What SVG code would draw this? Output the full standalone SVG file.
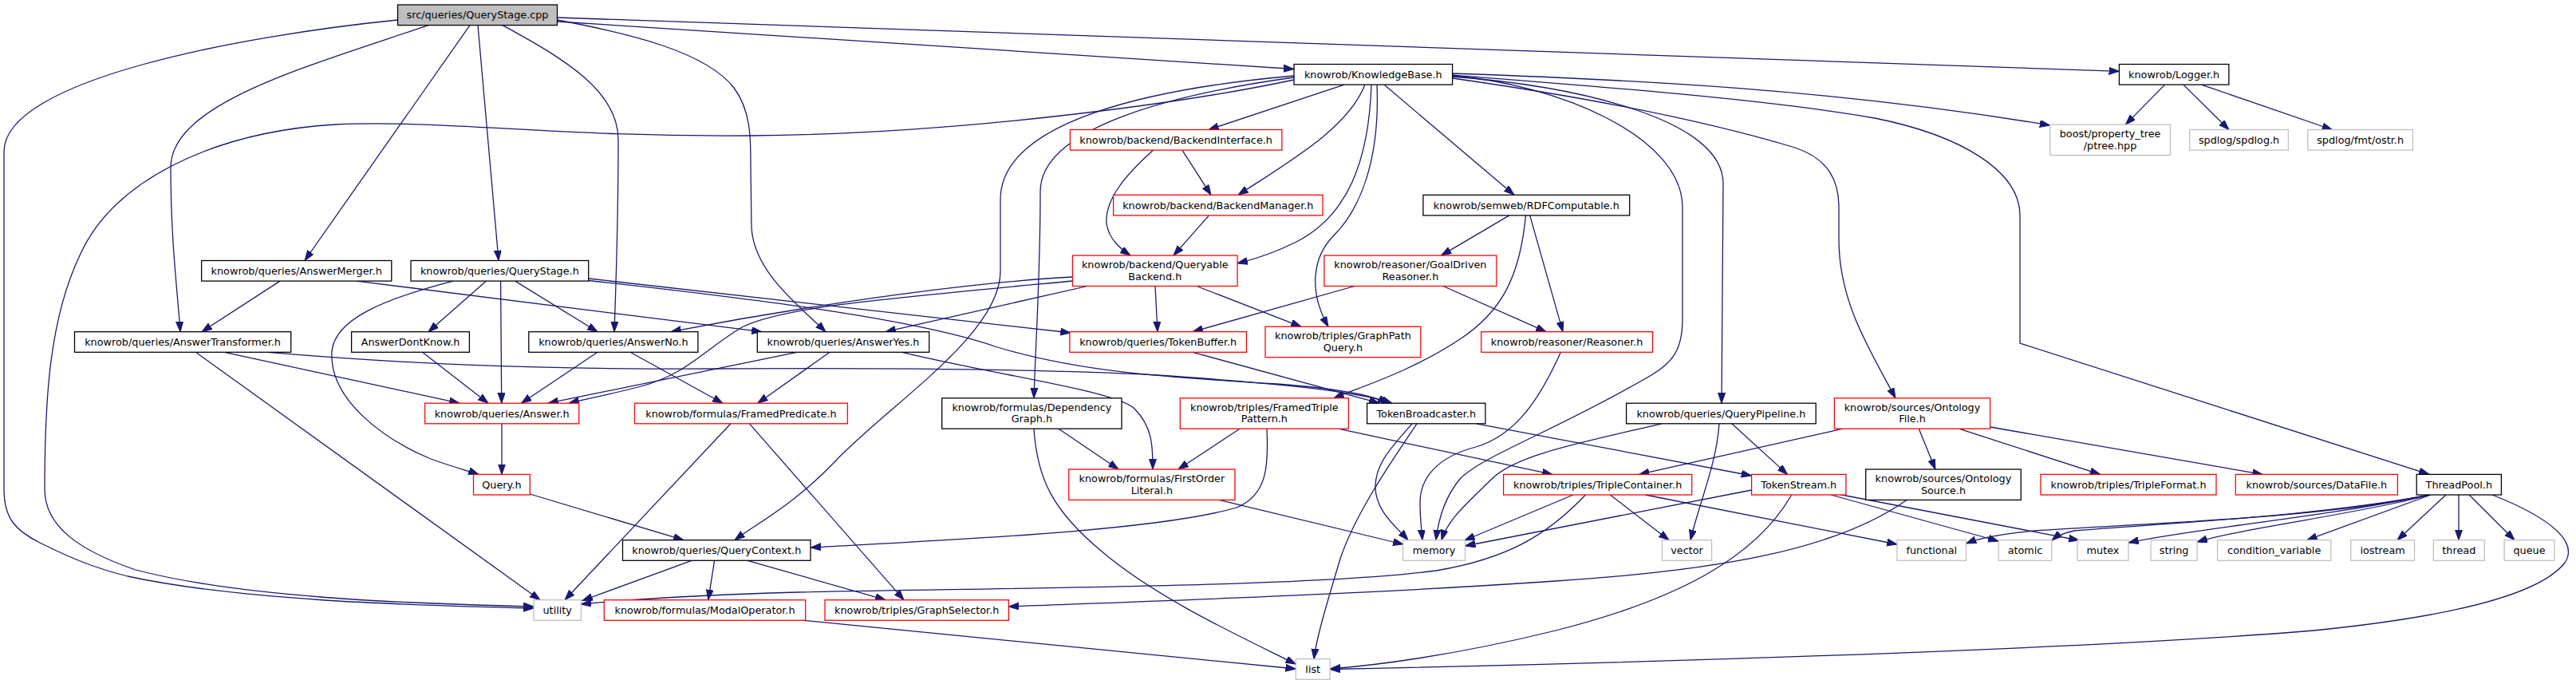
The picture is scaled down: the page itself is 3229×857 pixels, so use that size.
<svg xmlns="http://www.w3.org/2000/svg" width="3229" height="857" viewBox="0 0 3229 857">
<style>
rect{fill:#fff;stroke:#000;stroke-width:1.28}
.r rect{stroke:#f00}
.g rect{stroke:#bfbfbf}
.root rect{fill:#bfbfbf}
text{font-family:"DejaVu Sans",sans-serif;font-size:12.8px;text-anchor:middle;fill:#000}
#edges path{fill:none;stroke:#191970;stroke-width:1.28;marker-end:url(#a)}
</style>
<defs>
<marker id="a" markerUnits="userSpaceOnUse" markerWidth="14" markerHeight="10" refX="12.8" refY="4.5" orient="auto" viewBox="0 0 14 10"><path d="M0,0 L12.8,4.5 L0,9z" fill="#191970" stroke="#191970" stroke-width="1"/></marker>
</defs>
<rect x="0" y="0" width="3229" height="857" style="fill:#fff;stroke:none"/>
<g id="edges">
<path d="M498.5,25 C300,45 5,100 5,190 L5,613 C5,650 20,665 50,680 C90,700 120,712 160,722 C300,752 500,758 669,762"/>
<path d="M537,31.6 C380,85 214,130 214,210 C214,300 222,360 226,415.7"/>
<path d="M589,31.6 L382,326.5"/>
<path d="M599,31.6 L625,326.5"/>
<path d="M630,31.6 C710,75 775,115 775,175 C775,280 772,360 770,415.7"/>
<path d="M698.5,25 C790,42 885,65 920,110 C942,140 941,175 941,210 L942,285 C945,340 1000,382 1035,415.7"/>
<path d="M698.5,27 L1622,86.5"/>
<path d="M698.5,22 L2656.4,89.3"/>
<path d="M1622,100 C1480,130 1200,168 940,170 C700,172 560,150 420,156 C260,166 140,230 100,320 C62,400 56,500 56,613 C56,660 100,690 170,714 C300,748 500,756 669,760"/>
<path d="M1622,95 C1450,110 1254,150 1254,250 L1254,340 C1254,420 1110,510 1045,580 C995,632 950,655 921,676.7"/>
<path d="M1622,97 C1470,118 1304,160 1304,240 C1304,350 1298,430 1296,498.8"/>
<path d="M1685,106.1 L1515,162.5"/>
<path d="M1711,106.1 C1690,160 1620,200 1552,244.3"/>
<path d="M1719,106.1 C1716,200 1690,270 1625,303 C1595,318 1572,325 1551,330"/>
<path d="M1726,106.1 C1730,200 1705,262 1672,295 C1645,322 1640,365 1665,409.3"/>
<path d="M1735,106.1 L1898,244.3"/>
<path d="M1820.6,95 C1950,105 2109,170 2109,260 L2109,400 C2109,440 2095,455 2070,470 C1950,540 1860,570 1830,600 C1812,622 1803,650 1800,676.7"/>
<path d="M1820.6,96 C1980,108 2160,150 2160,230 L2158,505.2"/>
<path d="M1820.6,98 C1990,122 2140,152 2250,185 C2295,200 2305,230 2305,260 L2305,300 C2305,380 2345,440 2376,498.8"/>
<path d="M1820.6,94 C2000,108 2220,125 2350,148 C2460,170 2532,215 2532,270 L2532,430 L3045,594.4"/>
<path d="M1820.6,92 C2050,100 2300,112 2569.7,157"/>
<path d="M2713.5,106.1 L2664.4,156.1"/>
<path d="M2736.8,106.1 L2794,162.5"/>
<path d="M2759.5,106.1 L2923.4,162.5"/>
<path d="M1481.9,188.1 L1518,244.3"/>
<path d="M1445.7,188.1 C1410,220 1385,250 1387,280 C1390,300 1405,312 1417,320.1"/>
<path d="M1515.5,269.9 L1471,320.1"/>
<path d="M1891.9,269.9 L1806.6,320.1"/>
<path d="M1917.7,269.9 L1959,415.7"/>
<path d="M1912.5,269.9 C1905,350 1880,392 1830,425 C1770,465 1705,485 1672,498.8"/>
<path d="M1344.5,347 C1200,355 1000,385 841,415.7"/>
<path d="M1344.5,352 C1100,375 980,385 930,410 C880,440 860,470 800,485 C760,495 735,500 713,505.2"/>
<path d="M999,441.3 L687,505.2"/>
<path d="M1363,358.5 L1110,415.7"/>
<path d="M1448,358.5 L1451,415.7"/>
<path d="M1500,358.5 L1631,409.3"/>
<path d="M1698,358.5 L1495,415.7"/>
<path d="M1809,358.5 L1938,415.7"/>
<path d="M351,352.1 L253,415.7"/>
<path d="M446.8,352.1 L955,415.7"/>
<path d="M568,352.1 C480,375 420,400 416,440 C412,500 480,550 540,575 C570,586 588,590 600,594.4"/>
<path d="M609.5,352.1 L537,415.7"/>
<path d="M627.6,352.1 L628.7,505.2"/>
<path d="M645.7,352.1 L749,415.7"/>
<path d="M737.7,349 L1342,417"/>
<path d="M737.7,351.5 C950,375 1150,400 1250,435 C1350,465 1450,472 1600,481 C1680,487 1720,495 1740,505.2"/>
<path d="M281.5,441.3 L576,505.2"/>
<path d="M245.4,441.3 L677,751.7"/>
<path d="M335.8,441.3 C500,455 650,463 900,462 C1100,461 1300,462 1450,470 C1600,480 1700,490 1745,505.2"/>
<path d="M529.5,441.3 L612,505.2"/>
<path d="M749,441.3 L653.5,505.2"/>
<path d="M790,441.3 L906,505.2"/>
<path d="M1040,441.3 L949.8,505.2"/>
<path d="M1130.6,441.3 C1250,470 1400,490 1422,512 C1445,535 1445,560 1445,588"/>
<path d="M1495,441.3 L1729,505.2"/>
<path d="M1956.4,441.3 C1930,500 1900,545 1850,560 C1800,573 1780,600 1780,630 C1780,650 1782,665 1783,676.7"/>
<path d="M629,530.8 L629,594.4"/>
<path d="M916,530.8 L708,751.7"/>
<path d="M939.5,530.8 L1133,751.7"/>
<path d="M1327,537.2 L1402,588"/>
<path d="M1296,537.2 C1300,600 1320,640 1380,690 C1450,750 1560,800 1624.3,832"/>
<path d="M1554,537.2 L1477,588"/>
<path d="M1588,537.2 C1590,580 1590,620 1550,636 C1450,665 1200,676 1016,686"/>
<path d="M1677.5,537.2 L1946,594.4"/>
<path d="M1770,530.8 C1745,560 1724,580 1724,610 C1724,640 1750,660 1765,676.7"/>
<path d="M1776,530.8 C1750,570 1700,640 1680,700 C1662,760 1650,800 1647,825.7"/>
<path d="M1850.5,530.8 L2195.6,596"/>
<path d="M2083,530.8 C1980,555 1900,570 1870,600 C1840,630 1815,650 1807,676.7"/>
<path d="M2155,530.8 C2152,580 2130,630 2119,676.7"/>
<path d="M2170.8,530.8 L2240.6,594.4"/>
<path d="M2310,537.2 L2054.6,594.4"/>
<path d="M2405.3,537.2 L2426,588"/>
<path d="M2455.5,537.2 L2632.6,594.4"/>
<path d="M2494.6,535 L2836.2,594.4"/>
<path d="M664.3,619 L857,676.7"/>
<path d="M1528,626.4 L1759,682"/>
<path d="M1972,620 L1836,677"/>
<path d="M1987.4,620 C1940,670 1890,700 1800,715 C1650,735 1300,736 1000,742 C860,746 780,752 728.4,757"/>
<path d="M2018.4,620 L2092,676.7"/>
<path d="M2062.3,620 L2378,682"/>
<path d="M2195.6,614 L1836.6,684"/>
<path d="M2245.7,620 C2200,700 2100,752 1950,790 C1820,822 1720,834 1667.2,838"/>
<path d="M2295,620 L2505,678"/>
<path d="M2298,618 L2606,677"/>
<path d="M2390,626.4 C2300,690 2150,715 1950,728 C1700,745 1450,753 1264.4,760"/>
<path d="M867,702.3 L730,752.5"/>
<path d="M895.6,702.3 L887.8,751.7"/>
<path d="M937,702.3 L1110,751.7"/>
<path d="M1006.6,777.3 L1624.3,838"/>
<path d="M3046,620 C2900,650 2700,655 2550,665 C2500,670 2480,675 2464.5,681"/>
<path d="M3046,620 C2900,648 2700,656 2600,665 C2585,668 2578,672 2572,677"/>
<path d="M3046,620 C2900,650 2750,662 2668,680"/>
<path d="M3047,620 C2950,645 2820,660 2754,679"/>
<path d="M3047,620 L2891.7,676.7"/>
<path d="M3066,620 L3005,676.7"/>
<path d="M3082,620 L3082,676.7"/>
<path d="M3095,620 L3152,676.7"/>
<path d="M3124,620 C3200,650 3232,680 3215,705 C3180,750 3050,775 2900,790 C2600,815 2000,832 1667.2,838.5"/>
</g>
<g id="n0" class="root"><rect x="498.5" y="6" width="200" height="25.6"/><text x="598.5" y="23.3">src/queries/QueryStage.cpp</text></g>
<g id="kb"><rect x="1622" y="80.5" width="198.6" height="25.6"/><text x="1721.3" y="97.8">knowrob/KnowledgeBase.h</text></g>
<g id="logger"><rect x="2656.4" y="80.5" width="137.5" height="25.6"/><text x="2725.15" y="97.8">knowrob/Logger.h</text></g>
<g id="bi" class="r"><rect x="1341.4" y="162.5" width="265.5" height="25.6"/><text x="1474.15" y="179.8">knowrob/backend/BackendInterface.h</text></g>
<g id="ptree" class="g"><rect x="2569.7" y="156.1" width="150.7" height="38.4"/><text x="2645.05" y="171.9">boost/property_tree</text><text x="2645.05" y="186.7">/ptree.hpp</text></g>
<g id="spdlog" class="g"><rect x="2744.7" y="162.5" width="123.7" height="25.6"/><text x="2806.55" y="179.8">spdlog/spdlog.h</text></g>
<g id="ostr" class="g"><rect x="2892.8" y="162.5" width="131.6" height="25.6"/><text x="2958.6" y="179.8">spdlog/fmt/ostr.h</text></g>
<g id="bm" class="r"><rect x="1395.6" y="244.3" width="262.4" height="25.6"/><text x="1526.8" y="261.6">knowrob/backend/BackendManager.h</text></g>
<g id="rdf"><rect x="1783.9" y="244.3" width="258.8" height="25.6"/><text x="1913.3" y="261.6">knowrob/semweb/RDFComputable.h</text></g>
<g id="qb" class="r"><rect x="1344.5" y="320.1" width="206.6" height="38.4"/><text x="1447.8" y="335.9">knowrob/backend/Queryable</text><text x="1447.8" y="350.7">Backend.h</text></g>
<g id="gdr" class="r"><rect x="1659.9" y="320.1" width="216" height="38.4"/><text x="1767.9" y="335.9">knowrob/reasoner/GoalDriven</text><text x="1767.9" y="350.7">Reasoner.h</text></g>
<g id="am"><rect x="252.6" y="326.5" width="238.2" height="25.6"/><text x="371.7" y="343.8">knowrob/queries/AnswerMerger.h</text></g>
<g id="qsh"><rect x="515" y="326.5" width="222.7" height="25.6"/><text x="626.35" y="343.8">knowrob/queries/QueryStage.h</text></g>
<g id="at"><rect x="93.5" y="415.7" width="271.2" height="25.6"/><text x="229.1" y="433">knowrob/queries/AnswerTransformer.h</text></g>
<g id="adk"><rect x="440.6" y="415.7" width="147.8" height="25.6"/><text x="514.5" y="433">AnswerDontKnow.h</text></g>
<g id="ano"><rect x="662.8" y="415.7" width="212.1" height="25.6"/><text x="768.85" y="433">knowrob/queries/AnswerNo.h</text></g>
<g id="ayes"><rect x="949.3" y="415.7" width="215.4" height="25.6"/><text x="1057" y="433">knowrob/queries/AnswerYes.h</text></g>
<g id="tb" class="r"><rect x="1340.9" y="415.7" width="221.6" height="25.6"/><text x="1451.7" y="433">knowrob/queries/TokenBuffer.h</text></g>
<g id="gpq" class="r"><rect x="1586" y="409.3" width="194.8" height="38.4"/><text x="1683.4" y="425.1">knowrob/triples/GraphPath</text><text x="1683.4" y="439.9">Query.h</text></g>
<g id="reas" class="r"><rect x="1856.7" y="415.7" width="214.9" height="25.6"/><text x="1964.15" y="433">knowrob/reasoner/Reasoner.h</text></g>
<g id="ans" class="r"><rect x="532.6" y="505.2" width="193.2" height="25.6"/><text x="629.2" y="522.5">knowrob/queries/Answer.h</text></g>
<g id="fp" class="r"><rect x="795.5" y="505.2" width="266.9" height="25.6"/><text x="928.95" y="522.5">knowrob/formulas/FramedPredicate.h</text></g>
<g id="dg"><rect x="1180.7" y="498.8" width="225.3" height="38.4"/><text x="1293.35" y="514.6">knowrob/formulas/Dependency</text><text x="1293.35" y="529.4">Graph.h</text></g>
<g id="ftp" class="r"><rect x="1479.3" y="498.8" width="211.1" height="38.4"/><text x="1584.85" y="514.6">knowrob/triples/FramedTriple</text><text x="1584.85" y="529.4">Pattern.h</text></g>
<g id="tbc"><rect x="1713.6" y="505.2" width="148.3" height="25.6"/><text x="1787.75" y="522.5">TokenBroadcaster.h</text></g>
<g id="qp"><rect x="2038.6" y="505.2" width="237.6" height="25.6"/><text x="2157.4" y="522.5">knowrob/queries/QueryPipeline.h</text></g>
<g id="of" class="r"><rect x="2299.4" y="498.8" width="195.2" height="38.4"/><text x="2397" y="514.6">knowrob/sources/Ontology</text><text x="2397" y="529.4">File.h</text></g>
<g id="query" class="r"><rect x="593.5" y="594.4" width="70.8" height="25.6"/><text x="628.9" y="611.7">Query.h</text></g>
<g id="fol" class="r"><rect x="1339.8" y="588" width="208.2" height="38.4"/><text x="1443.9" y="603.8">knowrob/formulas/FirstOrder</text><text x="1443.9" y="618.6">Literal.h</text></g>
<g id="tc" class="r"><rect x="1884.6" y="594.4" width="236.1" height="25.6"/><text x="2002.65" y="611.7">knowrob/triples/TripleContainer.h</text></g>
<g id="ts" class="r"><rect x="2195.6" y="594.4" width="118.3" height="25.6"/><text x="2254.75" y="611.7">TokenStream.h</text></g>
<g id="os"><rect x="2338.7" y="588" width="194.5" height="38.4"/><text x="2435.95" y="603.8">knowrob/sources/Ontology</text><text x="2435.95" y="618.6">Source.h</text></g>
<g id="tf" class="r"><rect x="2558" y="594.4" width="220" height="25.6"/><text x="2668" y="611.7">knowrob/triples/TripleFormat.h</text></g>
<g id="df" class="r"><rect x="2802.3" y="594.4" width="203.1" height="25.6"/><text x="2903.85" y="611.7">knowrob/sources/DataFile.h</text></g>
<g id="tp"><rect x="3029.2" y="594.4" width="106.2" height="25.6"/><text x="3082.3" y="611.7">ThreadPool.h</text></g>
<g id="qc"><rect x="780.5" y="676.7" width="235.5" height="25.6"/><text x="898.25" y="694">knowrob/queries/QueryContext.h</text></g>
<g id="memory" class="g"><rect x="1758.6" y="676.7" width="78" height="25.6"/><text x="1797.6" y="694">memory</text></g>
<g id="vector" class="g"><rect x="2083.5" y="676.7" width="62" height="25.6"/><text x="2114.5" y="694">vector</text></g>
<g id="functional" class="g"><rect x="2378" y="676.7" width="86.5" height="25.6"/><text x="2421.25" y="694">functional</text></g>
<g id="atomic" class="g"><rect x="2505.2" y="676.7" width="66.6" height="25.6"/><text x="2538.5" y="694">atomic</text></g>
<g id="mutex" class="g"><rect x="2604" y="676.7" width="64" height="25.6"/><text x="2636" y="694">mutex</text></g>
<g id="string" class="g"><rect x="2696" y="676.7" width="58.2" height="25.6"/><text x="2725.1" y="694">string</text></g>
<g id="cv" class="g"><rect x="2779.6" y="676.7" width="142.2" height="25.6"/><text x="2850.7" y="694">condition_variable</text></g>
<g id="iostream" class="g"><rect x="2946.7" y="676.7" width="79.8" height="25.6"/><text x="2986.6" y="694">iostream</text></g>
<g id="thread" class="g"><rect x="3050.3" y="676.7" width="64" height="25.6"/><text x="3082.3" y="694">thread</text></g>
<g id="queue" class="g"><rect x="3139.1" y="676.7" width="62.9" height="25.6"/><text x="3170.55" y="694">queue</text></g>
<g id="utility" class="g"><rect x="669" y="751.7" width="59.4" height="25.6"/><text x="698.7" y="769">utility</text></g>
<g id="mo" class="r"><rect x="757.3" y="751.7" width="252.4" height="25.6"/><text x="883.5" y="769">knowrob/formulas/ModalOperator.h</text></g>
<g id="gs" class="r"><rect x="1034" y="751.7" width="230.4" height="25.6"/><text x="1149.2" y="769">knowrob/triples/GraphSelector.h</text></g>
<g id="list" class="g"><rect x="1624.3" y="825.7" width="42.9" height="25.6"/><text x="1645.75" y="843">list</text></g>
</svg>
